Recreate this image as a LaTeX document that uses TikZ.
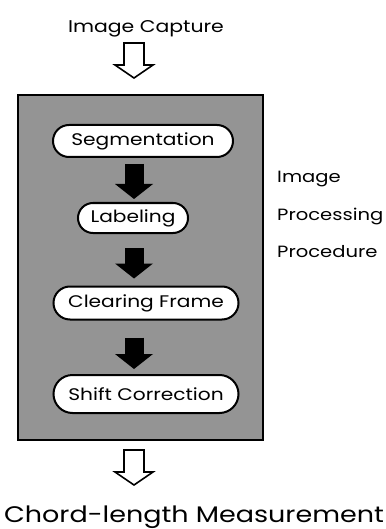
\documentclass[tikz,border=0pt]{standalone}
\usepackage{fontspec}
\setmainfont[FakeStretch=1.2]{Poppins}
\usetikzlibrary{arrows.meta}
\usetikzlibrary{calc}
\usetikzlibrary{shapes.misc}

\tikzset{
  txt/.style={font=\fontsize{17}{20}\selectfont, inner sep=0pt},
  stage/.style={rounded rectangle, draw, line width=2pt, fill=white,
    inner sep=0pt, font=\fontsize{16.8}{20}\selectfont},
  blkarrow/.style={line width=19pt,
    -{Triangle[width=38pt,length=15pt,line width=0pt]}},
  hollow/.pic={
    \draw[line width=1.6pt, line join=miter, fill=white]
      (-10,0) -- (-10,22) -- (-19,22) -- (0,35) -- (19,22) -- (10,22) -- (10,0) -- cycle;
  }
}

\begin{document}
\begin{tikzpicture}[x=1pt, y=-1pt]
    \useasboundingbox (0,0) rectangle (385,529);
    \coordinate (ax) at (134,0);

    % input and output
    \node[txt, anchor=base] (cap) at (146,33) {Image Capture};
    \node[txt, anchor=base, font=\fontsize{22.5}{26}\selectfont] (chord) at (194,522) {Chord-length Measurement};

    % processing block
    \draw[line width=2pt, fill=black!42] (18,95) rectangle (263,440);
    \foreach \y/\t in {183/Image, 220/Processing, 257/Procedure}
	\node[txt, anchor=base west, font=\fontsize{16.3}{19}\selectfont] at (277,\y) {\t};

    % the four steps
    \foreach \n/\t/\x/\y/\w/\h in {seg/Segmentation/143/141/180/32,
                                   lab/Labeling/133/218/110/30,
                                   clr/Clearing Frame/146/303/185/33,
                                   sft/Shift Correction/146/394/185/38}
	\node[stage, minimum width=\w pt, minimum height=\h pt] (\n) at (\x,\y) {\t};

    \foreach \a/\b/\s/\e in {seg/lab/6/3, lab/clr/14/7, clr/sft/17/5}
	\draw[blkarrow, shorten <=\s pt, shorten >=\e pt] (\a.south -| ax) -- (\b.north -| ax);

    \pic at (134,43) {hollow};
    \pic at (134,450) {hollow};
\end{tikzpicture}
\end{document}
